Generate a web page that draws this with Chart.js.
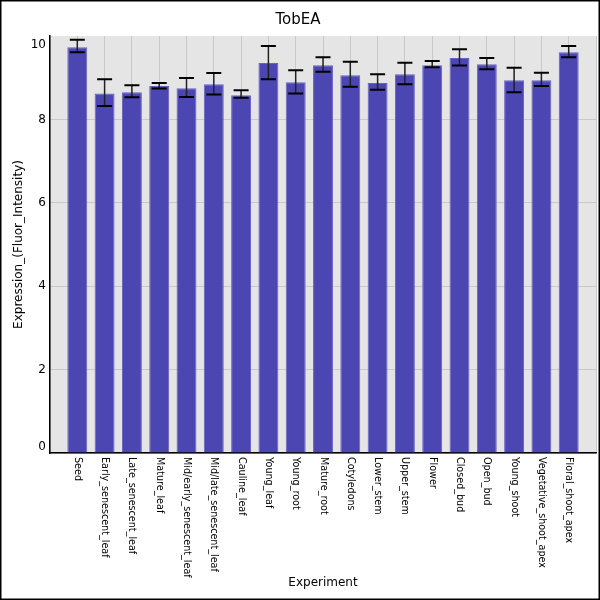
<!DOCTYPE html>
<html>
<head>
<meta charset="utf-8">
<title>TobEA</title>
<script src="https://cdn.jsdelivr.net/npm/chart.js@4"></script>
<style>
	body { margin: 0; background: #fff; }
	canvas { display: block; }
</style>
</head>
<body>
<canvas id="chart" width="600" height="600"></canvas>
<script>
const categories = [
	"Seed", "Early_senescent_leaf", "Late_senescent_leaf", "Mature_leaf",
	"Mid/early_senescent_leaf", "Mid/late_senescent_leaf", "Cauline_leaf",
	"Young_leaf", "Young_root", "Mature_root", "Cotyledons", "Lower_stem",
	"Upper_stem", "Flower", "Closed_bud", "Open_bud", "Young_shoot",
	"Vegetative_shoot_apex", "Floral_shoot_apex",
];
const expression = [
	9.73, 8.62, 8.65, 8.80, 8.75, 8.84, 8.58, 9.35, 8.89, 9.30,
	9.06, 8.87, 9.08, 9.30, 9.47, 9.32, 8.94, 8.94, 9.61,
];
const errHigh = [
	9.91, 8.96, 8.82, 8.87, 8.99, 9.11, 8.70, 9.76, 9.18, 9.49,
	9.38, 9.08, 9.36, 9.40, 9.68, 9.47, 9.24, 9.12, 9.76,
];
const errLow = [
	9.61, 8.32, 8.53, 8.74, 8.54, 8.60, 8.52, 8.96, 8.62, 9.14,
	8.78, 8.71, 8.84, 9.25, 9.29, 9.20, 8.65, 8.80, 9.49,
];
const yTicks = [0, 2, 4, 6, 8, 10];

// one empty slot on each side, like the original plot
const labels = ["", ...categories, ""];
const values = [null, ...expression, null];

Chart.defaults.font.family = "'DejaVu Sans', sans-serif";
Chart.defaults.color = "#000";

const background = {
	id: "background",
	beforeDraw(chart) {
		const { ctx, chartArea: a } = chart;
		ctx.save();
		ctx.fillStyle = "#fff";
		ctx.fillRect(0, 0, chart.width, chart.height);
		ctx.fillStyle = "#e5e5e5";
		ctx.fillRect(a.left, a.top, a.right - a.left, a.bottom - a.top);
		ctx.restore();
	},
};

const errorBars = {
	id: "errorBars",
	afterDatasetsDraw(chart) {
		const { ctx } = chart;
		const y = chart.scales.y;
		const bars = chart.getDatasetMeta(0).data;
		ctx.save();
		categories.forEach((c, i) => {
			const x = bars[i + 1].x;
			const top = y.getPixelForValue(errHigh[i]);
			const bottom = y.getPixelForValue(errLow[i]);
			ctx.strokeStyle = "#222";
			ctx.lineWidth = 1.5;
			ctx.beginPath();
			ctx.moveTo(x, top);
			ctx.lineTo(x, bottom);
			ctx.stroke();
			ctx.strokeStyle = "#000";
			ctx.lineWidth = 2;
			ctx.beginPath();
			ctx.moveTo(x - 7.5, top);
			ctx.lineTo(x + 7.5, top);
			ctx.moveTo(x - 7.5, bottom);
			ctx.lineTo(x + 7.5, bottom);
			ctx.stroke();
		});
		ctx.restore();
	},
};

const axisLabels = {
	id: "axisLabels",
	afterDraw(chart) {
		const { ctx, chartArea: a } = chart;
		const bars = chart.getDatasetMeta(0).data;
		ctx.save();
		ctx.fillStyle = "#000";

		// x labels read top to bottom
		ctx.font = "9.6px 'DejaVu Sans'";
		ctx.textAlign = "left";
		ctx.textBaseline = "middle";
		categories.forEach((c, i) => {
			ctx.save();
			ctx.translate(bars[i + 1].x, a.bottom + 4);
			ctx.rotate(Math.PI / 2);
			ctx.fillText(c, 0, 0);
			ctx.restore();
		});

		// y labels, end ones kept inside the plot
		ctx.font = "12px 'DejaVu Sans'";
		ctx.textAlign = "right";
		yTicks.forEach((t) => {
			let py = chart.scales.y.getPixelForValue(t);
			py = Math.min(Math.max(py, a.top + 9), a.bottom - 6);
			ctx.fillText(String(t), a.left - 4, py);
		});

		ctx.strokeStyle = "#000";
		ctx.lineWidth = 1.5;
		ctx.strokeRect(0.75, 0.75, chart.width - 1.5, chart.height - 1.5);
		ctx.restore();
	},
};

new Chart(document.getElementById("chart"), {
	type: "bar",
	data: {
		labels,
		datasets: [
			{
				label: "Expression",
				data: values,
				backgroundColor: "#4b46b2",
				borderColor: "#6662c2",
				borderWidth: 1,
				categoryPercentage: 0.73,
				barPercentage: 1,
			},
		],
	},
	options: {
		responsive: false,
		animation: false,
		devicePixelRatio: 1,
		layout: { padding: { top: 0, left: 0, right: 4, bottom: 0 } },
		plugins: {
			legend: { display: false },
			tooltip: { enabled: false },
			title: {
				display: true,
				text: "TobEA",
				font: { size: 15, weight: "normal" },
				padding: { top: 11, bottom: 7 },
			},
		},
		scales: {
			x: {
				offset: false,
				grid: { color: "#c8c8c8", drawTicks: false, offset: false },
				border: { color: "#000", width: 1.5 },
				ticks: { display: false },
				title: {
					display: true,
					text: "Experiment",
					font: { size: 12 },
					padding: { top: 0, bottom: 10 },
				},
				afterFit: (scale) => {
					scale.height = 147;
				},
			},
			y: {
				min: 0,
				max: 10,
				ticks: { display: false, stepSize: 2 },
				grid: {
					drawTicks: false,
					color: (c) => (c.tick && c.tick.value === 10 ? "rgba(0,0,0,0)" : "#c8c8c8"),
				},
				border: { color: "#000", width: 1.5 },
				title: {
					display: true,
					text: "Expression_(Fluor_Intensity)",
					font: { size: 12 },
					padding: { top: 12, bottom: 0 },
				},
				afterFit: (scale) => {
					scale.width = 50;
				},
			},
		},
	},
	plugins: [background, errorBars, axisLabels],
});
</script>
</body>
</html>
